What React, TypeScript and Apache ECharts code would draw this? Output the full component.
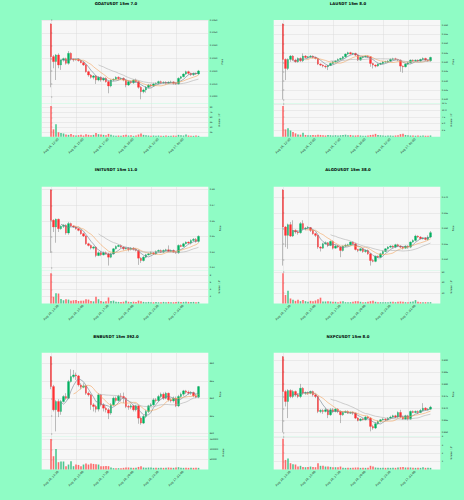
import React, { useEffect, useRef } from "react";
import * as echarts from "echarts";

// ---------- data ----------
const TICK_INDEX = [0, 10, 20, 30, 40, 50];
const TICK_LABELS = ["Aug 16, 12:30", "Aug 16, 15:00", "Aug 16, 17:30", "Aug 16, 20:00", "Aug 16, 22:30", "Aug 17, 01:00"];
const MAV_PERIODS = [5, 10, 20];

const GOAT_OPEN = [0.10569,0.10313,0.10274,0.10326,0.10248,0.10287,0.10297,0.10261,0.10339,0.10292,0.10287,0.10292,0.10282,0.10266,0.10248,0.10195,0.10169,0.10151,0.10162,0.10130,0.10151,0.10130,0.10143,0.10117,0.10083,0.10130,0.10135,0.10151,0.10141,0.10143,0.10130,0.10091,0.10117,0.10109,0.10130,0.10117,0.10073,0.10039,0.10052,0.10073,0.10091,0.10083,0.10099,0.10104,0.10117,0.10109,0.10112,0.10104,0.10112,0.10115,0.10104,0.10099,0.10143,0.10156,0.10177,0.10195,0.10182,0.10172,0.10182,0.10177];
const GOAT_CLOSE = [0.10313,0.10274,0.10326,0.10248,0.10287,0.10297,0.10261,0.10339,0.10292,0.10287,0.10292,0.10282,0.10266,0.10248,0.10195,0.10169,0.10151,0.10162,0.10130,0.10151,0.10130,0.10143,0.10117,0.10083,0.10130,0.10135,0.10151,0.10141,0.10143,0.10130,0.10091,0.10117,0.10109,0.10130,0.10117,0.10073,0.10039,0.10052,0.10073,0.10091,0.10083,0.10099,0.10104,0.10117,0.10109,0.10112,0.10104,0.10112,0.10115,0.10104,0.10099,0.10143,0.10156,0.10177,0.10195,0.10182,0.10172,0.10182,0.10177,0.10201];
const GOAT_LOW = [0.10073,0.10222,0.10130,0.10222,0.10209,0.10274,0.10250,0.10250,0.10282,0.10274,0.10282,0.10274,0.10261,0.10240,0.10188,0.10156,0.10141,0.10135,0.10099,0.10120,0.10117,0.10120,0.10109,0.10026,0.10073,0.10120,0.10130,0.10130,0.10130,0.10120,0.10073,0.10083,0.10099,0.10099,0.10109,0.10062,0.09979,0.10026,0.10031,0.10065,0.10073,0.10078,0.10091,0.10094,0.10099,0.10099,0.10094,0.10099,0.10104,0.10094,0.10091,0.10094,0.10135,0.10151,0.10169,0.10172,0.10162,0.10162,0.10169,0.10169];
const GOAT_HIGH = [0.10574,0.10326,0.10334,0.10339,0.10292,0.10305,0.10305,0.10357,0.10347,0.10297,0.10297,0.10297,0.10287,0.10274,0.10255,0.10203,0.10177,0.10169,0.10169,0.10159,0.10159,0.10151,0.10151,0.10125,0.10135,0.10143,0.10159,0.10159,0.10151,0.10151,0.10135,0.10125,0.10125,0.10135,0.10141,0.10125,0.10083,0.10062,0.10083,0.10099,0.10099,0.10109,0.10112,0.10125,0.10125,0.10120,0.10120,0.10120,0.10125,0.10120,0.10115,0.10151,0.10162,0.10182,0.10203,0.10203,0.10188,0.10188,0.10188,0.10209];
const GOAT_VOL = [95,23,39,14,12,10,7,6,9,5,4,5,6,4,8,6,5,6,12,8,7,6,5,9,6,4,3,4,3,5,6,4,5,3,4,7,10,6,5,4,3,4,3,4,3,3,4,3,3,4,3,6,5,4,7,4,3,3,4,3];
const GOAT_PRICE_TICKS = [0.1, 0.101, 0.102, 0.103, 0.104, 0.105, 0.106];
const GOAT_VOL_TICKS = [15, 30, 45, 60, 75, 90];

const LA_OPEN = [0.36054,0.34154,0.33670,0.34154,0.34333,0.34118,0.34029,0.34208,0.34083,0.34333,0.34262,0.34298,0.34333,0.34262,0.34208,0.33903,0.33850,0.33796,0.33760,0.33832,0.33939,0.34029,0.34065,0.34154,0.34208,0.34298,0.34441,0.34513,0.34441,0.34477,0.34387,0.34118,0.34262,0.34298,0.34333,0.34298,0.33939,0.33850,0.33796,0.33903,0.33939,0.34011,0.34029,0.34065,0.34154,0.34190,0.34154,0.34118,0.33796,0.33760,0.33903,0.33975,0.34118,0.34083,0.34118,0.34065,0.34154,0.34208,0.34118,0.34083];
const LA_CLOSE = [0.34154,0.33670,0.34154,0.34333,0.34118,0.34029,0.34208,0.34083,0.34333,0.34262,0.34298,0.34333,0.34262,0.34208,0.33903,0.33850,0.33796,0.33760,0.33832,0.33939,0.34029,0.34065,0.34154,0.34208,0.34298,0.34441,0.34513,0.34441,0.34477,0.34387,0.34118,0.34262,0.34298,0.34333,0.34298,0.33939,0.33850,0.33796,0.33903,0.33939,0.34011,0.34029,0.34065,0.34154,0.34190,0.34154,0.34118,0.33796,0.33760,0.33903,0.33975,0.34118,0.34083,0.34118,0.34065,0.34154,0.34208,0.34118,0.34083,0.34262];
const LA_LOW = [0.32004,0.33043,0.33581,0.34029,0.34065,0.33975,0.33975,0.34011,0.34011,0.34208,0.34208,0.34244,0.34208,0.34154,0.33850,0.33796,0.33724,0.33670,0.33581,0.33796,0.33903,0.33975,0.34029,0.34118,0.34154,0.34244,0.34387,0.34423,0.34387,0.34333,0.34065,0.34083,0.34208,0.34262,0.34244,0.33760,0.33670,0.33724,0.33760,0.33850,0.33903,0.33975,0.33975,0.34011,0.34118,0.34118,0.34065,0.33491,0.33437,0.33724,0.33850,0.33939,0.34029,0.34029,0.34029,0.34029,0.34118,0.34083,0.34029,0.34029];
const LA_HIGH = [0.36090,0.34208,0.34208,0.34387,0.34387,0.34190,0.34262,0.34262,0.34477,0.34387,0.34333,0.34387,0.34369,0.34298,0.34244,0.33939,0.33885,0.33832,0.33850,0.33975,0.34065,0.34118,0.34208,0.34244,0.34333,0.34477,0.34566,0.34566,0.34513,0.34513,0.34423,0.34298,0.34333,0.34369,0.34369,0.34333,0.33975,0.33885,0.33939,0.33975,0.34065,0.34083,0.34118,0.34208,0.34244,0.34244,0.34190,0.34154,0.33832,0.33939,0.34029,0.34154,0.34154,0.34154,0.34154,0.34190,0.34262,0.34244,0.34154,0.34298];
const LA_VOL = [11.7,2.8,3.2,2.4,1.8,1.3,0.9,0.8,1.5,0.7,0.6,0.6,0.7,0.6,0.8,0.7,0.6,0.5,0.7,0.6,0.5,0.6,0.5,0.6,0.7,0.8,0.6,0.7,0.5,0.5,0.6,0.5,0.4,0.4,0.5,0.7,0.8,1.1,0.7,0.6,0.5,0.4,0.5,0.5,0.4,0.5,0.6,1.0,1.2,0.7,0.6,0.5,0.5,0.4,0.5,0.4,0.5,0.4,0.4,0.5];
const LA_PRICE_TICKS = [0.32, 0.325, 0.33, 0.335, 0.34, 0.345, 0.35, 0.355, 0.36];
const LA_VOL_TICKS = [2.5, 5, 7.5, 10, 12.5];

const INIT_OPEN = [0.47978,0.46039,0.45608,0.46104,0.45500,0.45651,0.45716,0.45220,0.45823,0.45673,0.45608,0.45500,0.45392,0.45177,0.45026,0.44530,0.44423,0.44250,0.44315,0.43776,0.43949,0.43819,0.43949,0.43884,0.43668,0.43884,0.44207,0.44358,0.44423,0.44315,0.44207,0.44250,0.44164,0.44250,0.44164,0.44099,0.43604,0.43453,0.43668,0.43819,0.43884,0.43949,0.43884,0.44035,0.44099,0.43992,0.44099,0.44142,0.44035,0.44099,0.43992,0.43949,0.44423,0.44358,0.44530,0.44638,0.44574,0.44746,0.44811,0.44681];
const INIT_CLOSE = [0.46039,0.45608,0.46104,0.45500,0.45651,0.45716,0.45220,0.45823,0.45673,0.45608,0.45500,0.45392,0.45177,0.45026,0.44530,0.44423,0.44250,0.44315,0.43776,0.43949,0.43819,0.43949,0.43884,0.43668,0.43884,0.44207,0.44358,0.44423,0.44315,0.44207,0.44250,0.44164,0.44250,0.44164,0.44099,0.43604,0.43453,0.43668,0.43819,0.43884,0.43949,0.43884,0.44035,0.44099,0.43992,0.44099,0.44142,0.44035,0.44099,0.43992,0.43949,0.44423,0.44358,0.44530,0.44638,0.44574,0.44746,0.44811,0.44681,0.45005];
const INIT_LOW = [0.43949,0.45285,0.44595,0.45285,0.45436,0.45543,0.45112,0.45112,0.45608,0.45543,0.45436,0.45328,0.45112,0.44961,0.44466,0.44358,0.44164,0.44164,0.43668,0.43733,0.43733,0.43776,0.43819,0.43130,0.43604,0.43819,0.44164,0.44315,0.44250,0.44099,0.44164,0.44035,0.44099,0.44099,0.44035,0.43173,0.43302,0.43388,0.43604,0.43776,0.43819,0.43819,0.43819,0.43992,0.43949,0.43949,0.44035,0.43992,0.43992,0.43949,0.43884,0.43884,0.44315,0.44315,0.44487,0.44487,0.44487,0.44681,0.44595,0.44595];
const INIT_HIGH = [0.48043,0.46104,0.46147,0.46147,0.45716,0.45780,0.45780,0.45931,0.45888,0.45716,0.45673,0.45543,0.45457,0.45242,0.45069,0.44595,0.44487,0.44380,0.44380,0.44035,0.44035,0.44035,0.44035,0.43949,0.43949,0.44250,0.44423,0.44487,0.44487,0.44380,0.44315,0.44315,0.44315,0.44315,0.44250,0.44164,0.43668,0.43733,0.43884,0.43949,0.44035,0.43992,0.44099,0.44164,0.44164,0.44164,0.44207,0.44423,0.44164,0.44164,0.44035,0.44487,0.44487,0.44595,0.44681,0.44681,0.44811,0.44897,0.44897,0.45069];
const INIT_VOL = [8.5,1.9,2.9,2.8,1.3,0.9,1.2,1.1,0.8,0.9,1.0,0.7,0.8,0.8,1.2,1.1,0.7,0.6,1.9,1.2,0.7,0.5,0.6,1.7,0.7,0.8,0.5,0.45,0.45,0.5,0.8,0.5,0.45,0.5,0.45,0.8,0.6,0.45,0.35,0.45,0.35,0.35,0.45,0.35,0.35,0.45,0.35,0.45,0.35,0.35,0.45,0.5,0.45,0.45,0.5,0.45,0.45,0.45,0.35,0.45];
const INIT_PRICE_TICKS = [0.43, 0.44, 0.45, 0.46, 0.47, 0.48];
const INIT_VOL_TICKS = [2, 4, 6, 8];

const ALGO_OPEN = [0.27238,0.26050,0.25780,0.26125,0.25758,0.25942,0.25888,0.25866,0.26158,0.25996,0.26017,0.26030,0.25942,0.25834,0.25780,0.25402,0.25369,0.25510,0.25542,0.25456,0.25585,0.25369,0.25434,0.25402,0.25294,0.25434,0.25456,0.25477,0.25564,0.25510,0.25326,0.25294,0.25348,0.25261,0.25294,0.25186,0.24970,0.24943,0.25110,0.25078,0.25186,0.25261,0.25348,0.25402,0.25434,0.25402,0.25477,0.25434,0.25402,0.25369,0.25434,0.25402,0.25564,0.25618,0.25758,0.25726,0.25672,0.25693,0.25650,0.25726];
const ALGO_CLOSE = [0.26050,0.25780,0.26125,0.25758,0.25942,0.25888,0.25866,0.26158,0.25996,0.26017,0.26030,0.25942,0.25834,0.25780,0.25402,0.25369,0.25510,0.25542,0.25456,0.25585,0.25369,0.25434,0.25402,0.25294,0.25434,0.25456,0.25477,0.25564,0.25510,0.25326,0.25294,0.25348,0.25261,0.25294,0.25186,0.24970,0.24943,0.25110,0.25078,0.25186,0.25261,0.25348,0.25402,0.25434,0.25402,0.25477,0.25434,0.25402,0.25369,0.25434,0.25402,0.25564,0.25618,0.25758,0.25726,0.25672,0.25693,0.25650,0.25726,0.25866];
const ALGO_LOW = [0.24808,0.25402,0.25348,0.25726,0.25726,0.25834,0.25801,0.25834,0.25942,0.25942,0.25974,0.25888,0.25801,0.25726,0.25348,0.25261,0.25348,0.25477,0.25402,0.25434,0.25326,0.25348,0.25369,0.25078,0.25261,0.25402,0.25434,0.25456,0.25477,0.25294,0.25240,0.25261,0.25218,0.25218,0.25153,0.24808,0.24916,0.24916,0.25051,0.25051,0.25153,0.25240,0.25326,0.25369,0.25369,0.25369,0.25402,0.25369,0.25326,0.25348,0.25348,0.25369,0.25542,0.25586,0.25693,0.25650,0.25650,0.25618,0.25618,0.25693];
const ALGO_HIGH = [0.27270,0.26082,0.26158,0.26212,0.26266,0.25974,0.25942,0.26212,0.26266,0.26050,0.26082,0.26050,0.25974,0.25866,0.25801,0.25434,0.25542,0.25586,0.25564,0.25618,0.25618,0.25477,0.25456,0.25434,0.25456,0.25510,0.25510,0.25586,0.25586,0.25542,0.25348,0.25369,0.25369,0.25326,0.25326,0.25218,0.25024,0.25132,0.25132,0.25218,0.25294,0.25369,0.25434,0.25460,0.25460,0.25510,0.25510,0.25460,0.25434,0.25460,0.25460,0.25586,0.25650,0.25801,0.25780,0.25758,0.25726,0.25726,0.25780,0.25920];
const ALGO_VOL = [57,16,24,9.5,7,5,7,4.4,6.4,4.4,3.2,5,4.4,5.7,8,11,3.8,3.8,4.4,3.8,3.2,3.2,2.5,3.8,4.4,2.5,2.5,2.5,3.2,4.4,4.4,3.2,2.5,2.5,3.2,4.4,5,3.2,2.5,2.5,2.5,2.5,2.5,3.2,3.2,2.5,3.2,3.8,3.2,2.5,2.5,3.2,3.8,6.4,3.2,2.5,2.5,2.5,2.5,2.5];
const ALGO_PRICE_TICKS = [0.25, 0.255, 0.26, 0.265, 0.27];
const ALGO_VOL_TICKS = [20, 40, 60];

const BNB_OPEN = [861.89,853.40,846.79,849.15,846.32,849.15,850.57,850.09,854.81,856.23,856.70,856.42,853.87,853.21,853.58,851.51,851.04,848.21,847.74,846.98,851.04,848.21,847.26,846.79,845.85,848.21,850.09,849.43,850.75,850.57,850.09,847.74,847.55,847.92,846.79,847.92,844.43,843.02,844.91,846.32,847.92,848.21,849.62,849.43,850.57,851.23,850.09,851.51,849.62,849.34,850.09,847.92,850.57,851.23,852.17,851.79,851.51,851.70,850.75,850.38];
const BNB_CLOSE = [853.40,846.79,849.15,846.32,849.15,850.57,850.09,854.81,856.23,856.70,856.42,853.87,853.21,853.58,851.51,851.04,848.21,847.74,846.98,851.04,848.21,847.26,846.79,845.85,848.21,850.09,849.43,850.75,850.57,850.09,847.74,847.55,847.92,846.79,847.92,844.43,843.02,844.91,846.32,847.92,848.21,849.62,849.43,850.57,851.23,850.09,851.51,849.62,849.34,850.09,847.92,850.57,851.23,852.17,851.79,851.51,851.70,850.75,850.38,853.40];
const BNB_LOW = [852.64,846.32,840.66,844.72,845.38,848.87,849.62,849.81,854.53,855.75,855.28,853.40,852.64,852.92,851.04,850.57,846.79,846.32,846.04,846.32,847.74,846.32,846.04,844.15,845.38,847.92,848.87,849.15,849.15,848.68,847.26,846.79,846.98,846.32,846.32,842.83,842.55,842.74,844.43,845.85,847.55,847.92,848.87,849.15,850.09,849.62,849.81,849.15,848.87,848.87,847.55,847.55,850.09,850.75,851.32,851.04,851.04,850.38,850.09,850.09];
const BNB_HIGH = [862.08,853.87,849.62,849.81,849.62,850.94,851.51,855.28,858.30,858.11,857.36,856.70,854.34,854.34,853.87,851.98,851.32,848.68,848.21,851.51,851.32,848.68,847.74,847.26,848.68,850.57,850.57,851.04,851.51,851.70,850.38,848.21,848.49,848.21,848.21,848.21,844.91,845.38,846.79,848.21,848.68,850.09,850.09,851.04,851.70,851.70,851.89,851.70,850.09,850.57,850.57,851.04,851.70,852.45,852.45,852.26,852.08,851.98,851.32,853.58];
const BNB_VOL = [153000,66700,103000,36700,40000,40000,16700,25000,41700,16700,25000,23000,16700,25000,30000,25000,30000,28000,26700,25000,16700,16700,18000,16700,10000,6700,6700,6700,6700,8300,10000,10000,8300,8300,8300,13000,16700,10000,8300,10000,10000,8300,8300,8300,8300,8300,8300,10000,8300,8300,10000,11700,8300,8300,8300,8300,8300,8300,8300,8300];
const BNB_PRICE_TICKS = [840, 845, 850, 855, 860];
const BNB_VOL_TICKS = [50000, 100000, 150000];

const NXPC_OPEN = [0.89137,0.87699,0.87288,0.87740,0.87493,0.87699,0.87562,0.87493,0.87836,0.87630,0.87657,0.87630,0.87699,0.87562,0.87493,0.86877,0.86918,0.86877,0.86945,0.86739,0.86945,0.86877,0.86972,0.86877,0.86739,0.86835,0.86877,0.86808,0.86835,0.86808,0.86603,0.86507,0.86561,0.86534,0.86644,0.86603,0.86260,0.86192,0.86370,0.86466,0.86534,0.86561,0.86534,0.86603,0.86644,0.86698,0.86644,0.86835,0.86644,0.86561,0.86698,0.86561,0.86877,0.86835,0.86877,0.86835,0.86918,0.87014,0.86945,0.86972];
const NXPC_CLOSE = [0.87699,0.87288,0.87740,0.87493,0.87699,0.87562,0.87493,0.87836,0.87630,0.87657,0.87630,0.87699,0.87562,0.87493,0.86877,0.86918,0.86877,0.86945,0.86739,0.86945,0.86877,0.86972,0.86877,0.86739,0.86835,0.86877,0.86808,0.86835,0.86808,0.86603,0.86507,0.86561,0.86534,0.86644,0.86603,0.86260,0.86192,0.86370,0.86466,0.86534,0.86561,0.86534,0.86603,0.86644,0.86698,0.86644,0.86835,0.86644,0.86561,0.86698,0.86561,0.86877,0.86835,0.86877,0.86835,0.86918,0.87014,0.86945,0.86972,0.87055];
const NXPC_LOW = [0.86013,0.87082,0.86603,0.87425,0.87425,0.87493,0.87425,0.87425,0.87562,0.87562,0.87562,0.87589,0.87493,0.87425,0.86808,0.86808,0.86781,0.86835,0.86603,0.86698,0.86808,0.86835,0.86808,0.86397,0.86698,0.86808,0.86781,0.86781,0.86739,0.86561,0.86466,0.86466,0.86507,0.86507,0.86561,0.86055,0.86123,0.86150,0.86329,0.86424,0.86507,0.86479,0.86507,0.86561,0.86603,0.86603,0.86603,0.86603,0.86534,0.86534,0.86507,0.86534,0.86808,0.86808,0.86781,0.86808,0.86877,0.86918,0.86918,0.86945];
const NXPC_HIGH = [0.89164,0.87767,0.87794,0.87794,0.87767,0.87740,0.87630,0.88014,0.87877,0.87699,0.87699,0.87740,0.87740,0.87603,0.87520,0.86972,0.86972,0.87014,0.86972,0.87014,0.87014,0.87014,0.87014,0.86918,0.86877,0.86918,0.86918,0.86877,0.86877,0.86835,0.86644,0.86603,0.86603,0.86698,0.86698,0.86644,0.86329,0.86424,0.86507,0.86561,0.86603,0.86603,0.86644,0.86698,0.86739,0.86739,0.86877,0.86945,0.86698,0.86739,0.86739,0.86918,0.86918,0.86918,0.86918,0.86972,0.87219,0.87055,0.87014,0.87109];
const NXPC_VOL = [3.77,1.17,1.34,0.77,0.65,0.61,0.36,0.45,0.32,0.28,0.32,0.36,0.32,0.28,0.77,0.45,0.45,0.36,0.36,0.32,0.28,0.28,0.28,0.36,0.2,0.2,0.2,0.2,0.2,0.24,0.24,0.2,0.2,0.2,0.2,0.45,0.36,0.24,0.2,0.2,0.2,0.2,0.2,0.2,0.2,0.2,0.24,0.28,0.32,0.24,0.24,0.24,0.2,0.2,0.2,0.2,0.28,0.2,0.2,0.2];
const NXPC_PRICE_TICKS = [0.86, 0.865, 0.87, 0.875, 0.88, 0.885, 0.89];
const NXPC_VOL_TICKS = [1, 2, 3, 4];

// ---------- panel configuration ----------
const PANELS = [
  { title: "GOATUSDT 15m 7.0", open: GOAT_OPEN, close: GOAT_CLOSE, low: GOAT_LOW, high: GOAT_HIGH, vol: GOAT_VOL,
    pMin: 0.09946, pMax: 0.106, pTicks: GOAT_PRICE_TICKS, pDec: 4, vMax: 103, vTicks: GOAT_VOL_TICKS, vDec: 0, vName: "Volume  10⁶" },
  { title: "LAUSDT 15m 8.0", open: LA_OPEN, close: LA_CLOSE, low: LA_LOW, high: LA_HIGH, vol: LA_VOL,
    pMin: 0.31789, pMax: 0.36269, pTicks: LA_PRICE_TICKS, pDec: 3, vMax: 12.6, vTicks: LA_VOL_TICKS, vDec: 1, vName: "Volume  10⁶" },
  { title: "INITUSDT 15m 11.0", open: INIT_OPEN, close: INIT_CLOSE, low: INIT_LOW, high: INIT_HIGH, vol: INIT_VOL,
    pMin: 0.42832, pMax: 0.48194, pTicks: INIT_PRICE_TICKS, pDec: 2, vMax: 9.36, vTicks: INIT_VOL_TICKS, vDec: 0, vName: "Volume  10⁶" },
  { title: "ALGOUSDT 15m 38.0", open: ALGO_OPEN, close: ALGO_CLOSE, low: ALGO_LOW, high: ALGO_HIGH, vol: ALGO_VOL,
    pMin: 0.24659, pMax: 0.27346, pTicks: ALGO_PRICE_TICKS, pDec: 3, vMax: 63, vTicks: ALGO_VOL_TICKS, vDec: 0, vName: "Volume  10⁶" },
  { title: "BNBUSDT 15m 392.0", open: BNB_OPEN, close: BNB_CLOSE, low: BNB_LOW, high: BNB_HIGH, vol: BNB_VOL,
    pMin: 839.29, pMax: 863.02, pTicks: BNB_PRICE_TICKS, pDec: 0, vMax: 167500, vTicks: BNB_VOL_TICKS, vDec: 0, vName: "Volume" },
  { title: "NXPCUSDT 15m 8.0", open: NXPC_OPEN, close: NXPC_CLOSE, low: NXPC_LOW, high: NXPC_HIGH, vol: NXPC_VOL,
    pMin: 0.85856, pMax: 0.89301, pTicks: NXPC_PRICE_TICKS, pDec: 3, vMax: 4.07, vTicks: NXPC_VOL_TICKS, vDec: 0, vName: "Volume  10⁶" },
];

// ---------- layout & style ----------
const FONT = "DejaVu Sans";
const BG = "#8ffcc5";
const FACE = "#f7f7f7";
const GRID_LINE = "#dddddd";
const UP = "#00b060";
const DOWN = "#fe3032";
const VOL_UP = "#4dc790";
const VOL_DOWN = "#fd6b6c";
const WICK = "#7c7c7c";
const MAV_COLORS = ["#6f7f8f", "#f4a460", "#b0b0b0"];
const COL_LEFT = [41.7, 273.7];
const COL_CENTER = [116, 348];
const ROW_TOP = [20, 186.7, 352.7];
const ROW_TITLE = [3.3, 169.7, 336];
const PLOT_W = 166.6;
const PRICE_H = 83.5;
const VOL_H = 33.3;
const X_MIN = -3.72;
const X_MAX = 62.92;

function sma(values: number[], n: number): (number | null)[] {
  return values.map((_, i) => {
    if (i < n - 1) return null;
    let s = 0;
    for (let j = i - n + 1; j <= i; j++) s += values[j];
    return s / n;
  });
}

function buildOption() {
  const grid: any[] = [];
  const xAxis: any[] = [];
  const yAxis: any[] = [];
  const series: any[] = [];
  const graphic: any[] = [];

  PANELS.forEach((p, k) => {
    const col = k % 2;
    const row = Math.floor(k / 2);
    const left = COL_LEFT[col];
    const top = ROW_TOP[row];
    const gi = k * 2;

    graphic.push({
      type: "text", x: COL_CENTER[col], y: ROW_TITLE[row], silent: true,
      style: { text: p.title, align: "center", verticalAlign: "middle", fontFamily: FONT, fontSize: 3.9, fontWeight: "bold", fill: "#000" },
    });

    grid.push({ left, top, width: PLOT_W, height: PRICE_H, show: true, backgroundColor: FACE, borderWidth: 0 });
    grid.push({ left, top: top + PRICE_H, width: PLOT_W, height: VOL_H, show: true, backgroundColor: FACE, borderWidth: 0 });

    const splitX = { show: true, lineStyle: { color: GRID_LINE, width: 0.5 } };
    xAxis.push({
      gridIndex: gi, type: "value", min: X_MIN, max: X_MAX,
      axisLine: { show: false }, axisTick: { show: false, customValues: TICK_INDEX },
      axisLabel: { show: false, customValues: TICK_INDEX }, splitLine: splitX,
    });
    xAxis.push({
      gridIndex: gi + 1, type: "value", min: X_MIN, max: X_MAX,
      axisLine: { show: false }, axisTick: { show: false, customValues: TICK_INDEX },
      axisLabel: {
        show: true, customValues: TICK_INDEX, rotate: 45, align: "center", verticalAlign: "middle", margin: 9,
        fontSize: 2.9, fontFamily: FONT, color: "#222",
        formatter: (v: number) => { const i = TICK_INDEX.indexOf(Math.round(v)); return i >= 0 ? TICK_LABELS[i] : ""; },
      },
      splitLine: splitX,
    });

    const yCommon = (ticks: number[], dec: number) => ({
      type: "value", position: "right",
      axisLine: { show: false },
      axisTick: { show: true, customValues: ticks, length: 1.3, lineStyle: { color: "#444", width: 0.4 } },
      axisLabel: { customValues: ticks, margin: 1.4, fontSize: 2.2, fontFamily: FONT, color: "#222", formatter: (v: number) => v.toFixed(dec) },
      splitLine: { show: true, lineStyle: { color: GRID_LINE, width: 0.5 } },
      nameLocation: "middle", nameRotate: 90,
      nameTextStyle: { fontSize: 2.3, fontFamily: FONT, color: "#222" },
    });
    yAxis.push({ ...yCommon(p.pTicks, p.pDec), gridIndex: gi, min: p.pMin, max: p.pMax, name: "Price", nameGap: 11 });
    yAxis.push({ ...yCommon(p.vTicks, p.vDec), gridIndex: gi + 1, min: 0, max: p.vMax, name: p.vName, nameGap: p.vDec === 0 && p.vMax > 1000 ? 14 : 10 });

    const wicks = p.open.map((o, i) => [i, o, p.close[i], p.low[i], p.high[i]]);
    const bodies = p.open.map((o, i) => [i, o, p.close[i], Math.min(o, p.close[i]), Math.max(o, p.close[i])]);
    series.push({
      type: "candlestick", xAxisIndex: gi, yAxisIndex: gi, data: wicks, encode: { x: 0, y: [1, 2, 3, 4] },
      barWidth: 0.5, silent: true,
      itemStyle: { color: "transparent", color0: "transparent", borderColor: WICK, borderColor0: WICK, borderWidth: 0.5 },
    });
    series.push({
      type: "candlestick", xAxisIndex: gi, yAxisIndex: gi, data: bodies, encode: { x: 0, y: [1, 2, 3, 4] },
      barWidth: 1.6, silent: true,
      itemStyle: { color: UP, color0: DOWN, borderColor: UP, borderColor0: DOWN, borderWidth: 0.3 },
    });
    MAV_PERIODS.forEach((n, m) => {
      const avg = sma(p.close, n);
      series.push({
        type: "line", xAxisIndex: gi, yAxisIndex: gi, showSymbol: false, symbol: "none", silent: true,
        data: avg.map((v, i) => [i, v]).filter((d) => d[1] !== null),
        lineStyle: { color: MAV_COLORS[m], width: 0.6 },
      });
    });
    series.push({
      type: "bar", xAxisIndex: gi + 1, yAxisIndex: gi + 1, barWidth: 1.6, silent: true,
      data: p.vol.map((v, i) => ({ value: [i, v], itemStyle: { color: p.close[i] >= p.open[i] ? VOL_UP : VOL_DOWN } })),
    });
  });

  return {
    animation: false,
    backgroundColor: BG,
    textStyle: { fontFamily: FONT },
    grid, xAxis, yAxis, series, graphic,
  };
}

export default function App() {
  const ref = useRef<HTMLDivElement>(null);
  useEffect(() => {
    document.body.style.margin = "0";
    document.body.style.background = BG;
    const chart = echarts.init(ref.current!, null, { renderer: "svg" });
    chart.setOption(buildOption() as any);
    return () => chart.dispose();
  }, []);
  return <div ref={ref} style={{ position: "absolute", left: 0, top: 0, width: 464, height: 500 }} />;
}
